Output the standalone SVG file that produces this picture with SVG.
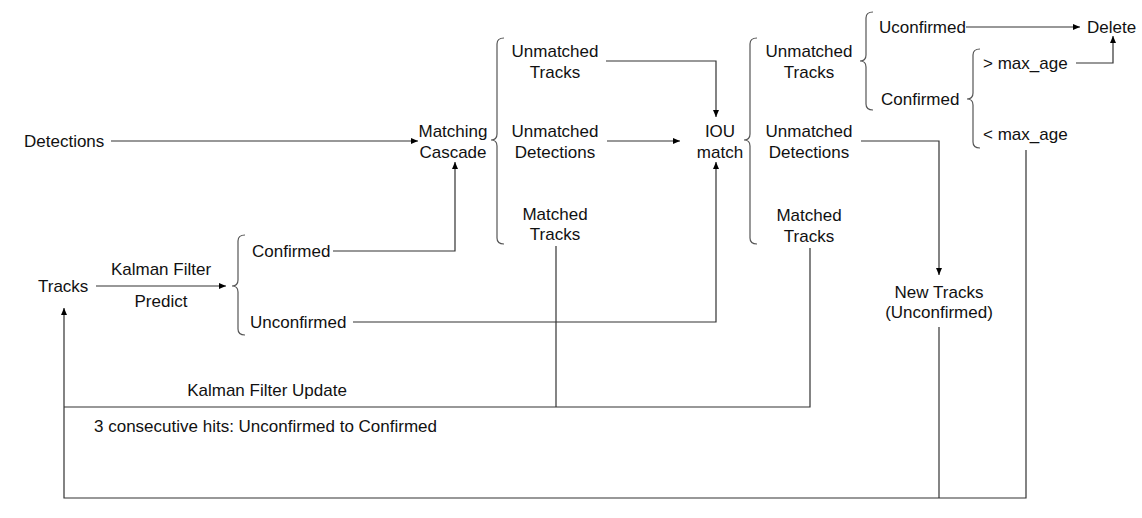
<svg xmlns="http://www.w3.org/2000/svg" width="1142" height="518" viewBox="0 0 1142 518">
<defs>
<marker id="ah" markerWidth="8" markerHeight="8" refX="7" refY="4" orient="auto" markerUnits="userSpaceOnUse">
<path d="M0,1 L7,4 L0,7 z" fill="#000"/>
</marker>
<style>
text{font-family:"Liberation Sans",Arial,sans-serif;font-size:17px;fill:#111}
.c{text-anchor:middle}
.ln{fill:none;stroke:#333;stroke-width:1.2}
.br{fill:none;stroke:#555;stroke-width:1.2}
</style>
</defs>
<rect width="1142" height="518" fill="#fff"/>

<g id="connectors">
<path class="ln" d="M111,141 H418" marker-end="url(#ah)"/>
<path class="ln" d="M96,286 H226" marker-end="url(#ah)"/>
<path class="ln" d="M333,251 H455 V162" marker-end="url(#ah)"/>
<path class="ln" d="M353,322 H716 V162" marker-end="url(#ah)"/>
<path class="ln" d="M606,61 H716 V117" marker-end="url(#ah)"/>
<path class="ln" d="M607,141 H680" marker-end="url(#ah)"/>
<path class="ln" d="M966,27 H1080" marker-end="url(#ah)"/>
<path class="ln" d="M1076,63 H1113 V36" marker-end="url(#ah)"/>
<path class="ln" d="M861,141 H939 V275" marker-end="url(#ah)"/>
<path class="ln" d="M939,327 V498"/>
<path class="ln" d="M1026,150 V498 H64 V308" marker-end="url(#ah)"/>
<path class="ln" d="M810,248 V407 H64"/>
<path class="ln" d="M556,246 V407"/>
</g>

<g id="braces">
<path class="br" d="M245,235 Q238,235 238,241 V280 Q238,286 232,286 Q238,286 238,292 V329 Q238,335 245,335"/>
<path class="br" d="M504,38 Q497,38 497,44 V134 Q497,140 491,140 Q497,140 497,146 V238 Q497,244 504,244"/>
<path class="br" d="M757,38 Q750,38 750,44 V134 Q750,140 744,140 Q750,140 750,146 V238 Q750,244 757,244"/>
<path class="br" d="M873,12 Q866,12 866,18 V55 Q866,61 860,61 Q866,61 866,67 V104 Q866,110 873,110"/>
<path class="br" d="M980,49 Q973,49 973,55 V93 Q973,99 967,99 Q973,99 973,105 V142 Q973,148 980,148"/>
</g>

<g id="detections"><text x="24" y="147">Detections</text></g>
<g id="tracks"><text x="38" y="292">Tracks</text></g>
<g id="kf-predict"><text class="c" x="161" y="275">Kalman Filter</text><text class="c" x="161" y="307">Predict</text></g>
<g id="confirmed1"><text x="252" y="257">Confirmed</text></g>
<g id="unconfirmed1"><text x="250" y="328">Unconfirmed</text></g>
<g id="matching-cascade"><text class="c" x="453" y="137">Matching</text><text class="c" x="453" y="158">Cascade</text></g>
<g id="unmatched-tracks1"><text class="c" x="555" y="57">Unmatched</text><text class="c" x="555" y="78">Tracks</text></g>
<g id="unmatched-det1"><text class="c" x="555" y="137">Unmatched</text><text class="c" x="555" y="158">Detections</text></g>
<g id="matched-tracks1"><text class="c" x="555" y="220">Matched</text><text class="c" x="555" y="240">Tracks</text></g>
<g id="iou-match"><text class="c" x="720" y="137">IOU</text><text class="c" x="720" y="158">match</text></g>
<g id="unmatched-tracks2"><text class="c" x="809" y="57">Unmatched</text><text class="c" x="809" y="78">Tracks</text></g>
<g id="unmatched-det2"><text class="c" x="809" y="137">Unmatched</text><text class="c" x="809" y="158">Detections</text></g>
<g id="matched-tracks2"><text class="c" x="809" y="221">Matched</text><text class="c" x="809" y="242">Tracks</text></g>
<g id="uconfirmed"><text x="879" y="33">Uconfirmed</text></g>
<g id="delete"><text x="1087" y="33">Delete</text></g>
<g id="confirmed2"><text x="881" y="105">Confirmed</text></g>
<g id="gt-max-age"><text x="983" y="69">&gt; max_age</text></g>
<g id="lt-max-age"><text x="983" y="140">&lt; max_age</text></g>
<g id="new-tracks"><text class="c" x="939" y="298">New Tracks</text><text class="c" x="939" y="318">(Unconfirmed)</text></g>
<g id="kf-update"><text class="c" x="267" y="396">Kalman Filter Update</text></g>
<g id="hits"><text x="94" y="432">3 consecutive hits: Unconfirmed to Confirmed</text></g>
</svg>
